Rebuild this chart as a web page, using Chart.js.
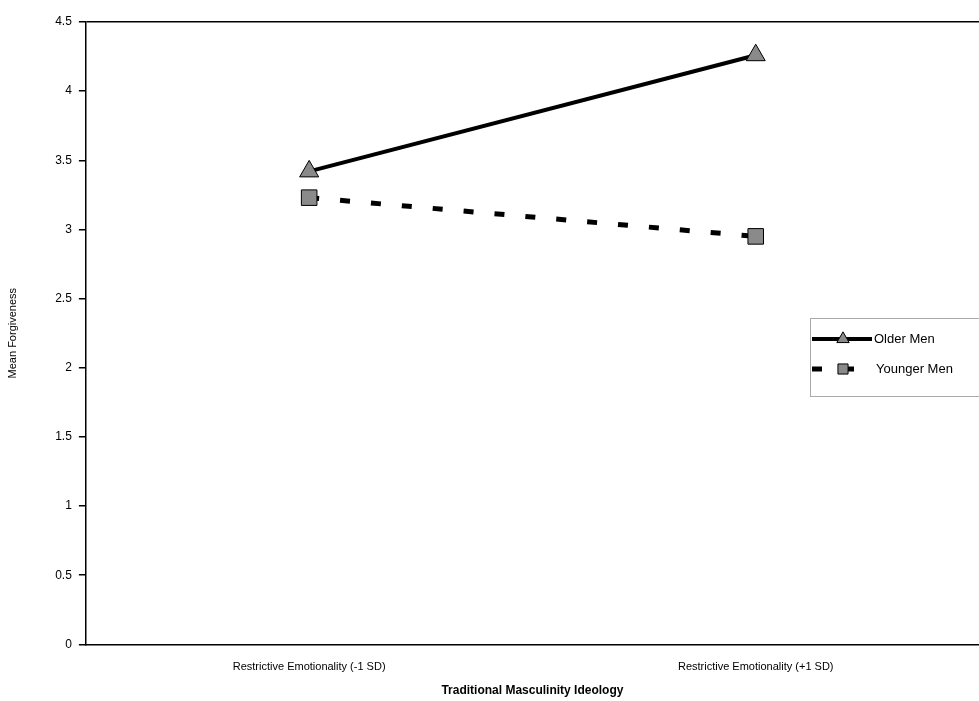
<!DOCTYPE html>
<html>
<head>
<meta charset="utf-8">
<script src="https://cdn.jsdelivr.net/npm/chart.js@4/dist/chart.umd.min.js"></script>
<style>
  body { margin: 0; background: #fff; }
  #wrap { width: 979px; height: 701px; position: relative; }
</style>
</head>
<body>
<div id="wrap"><canvas id="forgiveChart"></canvas></div>
<script>
const categories = ['Restrictive Emotionality (-1 SD)', 'Restrictive Emotionality (+1 SD)'];
const olderMen = [3.42, 4.26];
const youngerMen = [3.23, 2.95];
const seriesNames = ['Older Men', 'Younger Men'];

// legend box drawn inside the plot, like the original figure
const floatLegend = {
    id: 'floatLegend',
    afterDraw(chart) {
        const ctx = chart.ctx;
        const x = 810, y = 318, w = 172, h = 78;
        ctx.save();
        ctx.fillStyle = '#fff';
        ctx.fillRect(x, y, w, h);
        ctx.setLineDash([1, 1]);
        ctx.strokeStyle = '#555';
        ctx.lineWidth = 1;
        ctx.strokeRect(x + 0.5, y + 0.5, w, h);
        ctx.setLineDash([]);

        chart.data.datasets.forEach(function (ds, i) {
            const ly = y + 21 + i * 30;
            ctx.strokeStyle = ds.borderColor;
            ctx.lineWidth = ds.borderWidth;
            ctx.beginPath();
            if (i === 0) {
                ctx.moveTo(x + 2, ly);
                ctx.lineTo(x + 62, ly);
            } else {
                ctx.moveTo(x + 2, ly);
                ctx.lineTo(x + 12, ly);
                ctx.moveTo(x + 38, ly);
                ctx.lineTo(x + 44, ly);
            }
            ctx.stroke();
            ctx.fillStyle = ds.pointBackgroundColor;
            ctx.strokeStyle = '#000';
            ctx.lineWidth = 1;
            Chart.helpers.drawPoint(ctx, {
                pointStyle: ds.pointStyle,
                radius: ds.pointRadius * 0.65,
                borderWidth: 1
            }, x + 33, ly);
            ctx.fillStyle = '#000';
            ctx.font = '13px "Liberation Sans", Arial, sans-serif';
            ctx.textBaseline = 'middle';
            ctx.fillText(ds.label, x + (i === 0 ? 64 : 66), ly);
        });
        ctx.restore();
    }
};

new Chart(document.getElementById('forgiveChart'), {
    type: 'line',
    data: {
        labels: categories,
        datasets: [{
            label: seriesNames[0],
            data: olderMen,
            borderColor: '#000',
            borderWidth: 4,
            pointStyle: 'triangle',
            pointRadius: 11,
            pointBackgroundColor: '#8a8a8a',
            pointBorderColor: '#000',
            pointBorderWidth: 1
        }, {
            label: seriesNames[1],
            data: youngerMen,
            borderColor: '#000',
            borderWidth: 5,
            borderDash: [10, 21],
            pointStyle: 'rect',
            pointRadius: 11,
            pointBackgroundColor: '#8a8a8a',
            pointBorderColor: '#000',
            pointBorderWidth: 1
        }]
    },
    options: {
        responsive: true,
        maintainAspectRatio: false,
        animation: false,
        layout: { autoPadding: false, padding: { top: 22, right: 0, left: 0, bottom: 3 } },
        scales: {
            x: {
                offset: true,
                grid: { display: false, offset: false },
                border: { color: '#000', width: 1.5 },
                ticks: {
                    color: '#000',
                    padding: 8,
                    maxRotation: 0,
                    font: { family: '"Liberation Sans", Arial, sans-serif', size: 11 }
                },
                title: {
                    display: true,
                    text: 'Traditional Masculinity Ideology',
                    color: '#000',
                    padding: { top: 2, bottom: 0 },
                    font: { family: '"Liberation Sans", Arial, sans-serif', size: 12, weight: 'bold' }
                }
            },
            y: {
                min: 0,
                max: 4.5,
                ticks: {
                    stepSize: 0.5,
                    color: '#000',
                    padding: 7,
                    callback: function (v) { return String(v); },
                    font: { family: '"Liberation Sans", Arial, sans-serif', size: 12 }
                },
                grid: {
                    color: function (c) { return c.tick && c.tick.value === 4.5 ? '#000' : 'rgba(0,0,0,0)'; },
                    tickColor: '#000',
                    tickLength: 7,
                    lineWidth: 1.5
                },
                border: { color: '#000', width: 1.5 },
                title: {
                    display: true,
                    text: 'Mean Forgiveness',
                    color: '#000',
                    padding: { top: 6, bottom: 29 },
                    font: { family: '"Liberation Sans", Arial, sans-serif', size: 11 }
                }
            }
        },
        plugins: {
            legend: { display: false },
            tooltip: { enabled: false }
        }
    },
    plugins: [floatLegend]
});
</script>
</body>
</html>
